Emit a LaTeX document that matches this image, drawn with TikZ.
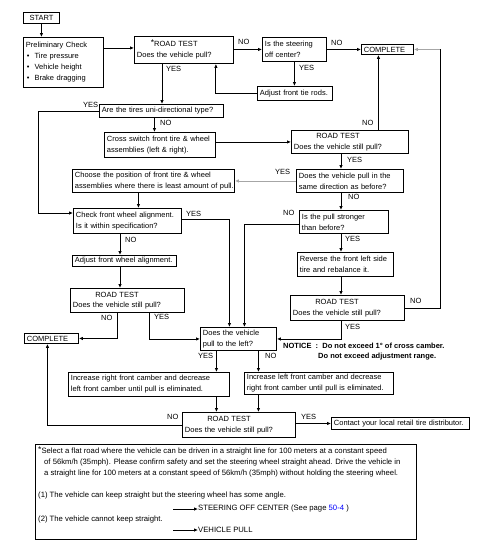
\documentclass[tikz,border=0pt]{standalone}
\usepackage{fontspec}
\setmainfont{Liberation Sans}
\usetikzlibrary{arrows.meta}

\newcommand{\rtest}[2]{\begin{tabular}{@{}c@{}}#1\\#2\end{tabular}}

\begin{document}
\begin{tikzpicture}
  [
    x=1pt, y=-1pt,
    every node/.style={font=\fontsize{7.5}{11}\selectfont},
    flowbox/.style={draw, line width=0.9pt, inner xsep=2.5pt, inner ysep=0pt,
      align=left, anchor=north west},
    lbl/.style={anchor=west, inner sep=0pt},
    fnote/.style={lbl, font=\fontsize{7.7}{11}\selectfont},
    conn/.style={line width=0.9pt, -{Latex[length=4pt,width=3.5pt]}},
    wire/.style={line width=0.9pt}
  ]
  \useasboundingbox (0,0) rectangle (478,552);
  \renewcommand{\arraystretch}{0.95}

  % boxes
  \node[flowbox, align=center, text width=31pt, minimum height=11pt] (start) at (23,12) {START};
  \node[flowbox, text width=75pt, minimum height=50pt] (prelim) at (23,37)
    {Preliminary Check\\
     \hspace*{1pt}\textbullet\hspace{5pt}Tire pressure\\
     \hspace*{1pt}\textbullet\hspace{5pt}Vehicle height\\
     \hspace*{1pt}\textbullet\hspace{5pt}Brake dragging};
  \node[flowbox, text width=94pt, minimum height=27pt] (rt1) at (134,36)
    {\rtest{{\fontsize{8.5}{11}\selectfont\raisebox{1pt}{*}}ROAD TEST}{Does the vehicle pull?}};
  \node[flowbox, text width=59pt, minimum height=24pt] (steer) at (262,37) {Is the steering\\off center?};
  \node[flowbox, text width=47pt, minimum height=10pt] (done1) at (361,44) {COMPLETE};
  \node[flowbox, text width=70pt, minimum height=14pt] (tierod) at (257,86) {Adjust front tie rods.};
  \node[flowbox, text width=119pt, minimum height=13pt] (tires) at (99,104) {Are the tires uni-directional type?};
  \node[flowbox, text width=106pt, minimum height=25pt] (cross) at (104,132)
    {Cross switch front tire \& wheel\\assemblies (left \& right).};
  \node[flowbox, text width=112pt, minimum height=23pt] (rt2) at (291,130)
    {\rtest{ROAD TEST}{Does the vehicle still pull?}};
  \node[flowbox, text width=157pt, minimum height=23pt] (choose) at (72,169)
    {\mbox{Choose the position of front tire \& wheel}\\\mbox{assemblies where there is least amount of pull.}};
  \node[flowbox, text width=102pt, minimum height=23pt] (samedir) at (296,169)
    {Does the vehicle pull in the\\same direction as before?};
  \node[flowbox, text width=103pt, minimum height=25pt] (check) at (73,208)
    {Check front wheel alignment.\\Is it within specification?};
  \node[flowbox, text width=84pt, minimum height=23pt] (stronger) at (299,210)
    {Is the pull stronger\\than before?};
  \node[flowbox, text width=99pt, minimum height=11pt] (adjust) at (72,255) {Adjust front wheel alignment.};
  \node[flowbox, text width=91pt, minimum height=24pt] (reverse) at (297,252)
    {Reverse the front left side\\tire and rebalance it.};
  \node[flowbox, text width=109pt, minimum height=24pt] (rt4) at (70,288)
    {\rtest{ROAD TEST}{Does the vehicle still pull?}};
  \node[flowbox, text width=109pt, minimum height=25pt] (rt3) at (290,295)
    {\rtest{ROAD TEST}{Does the vehicle still pull?}};
  \node[flowbox, text width=49pt, minimum height=10pt] (done2) at (24,333) {COMPLETE};
  \node[flowbox, text width=71pt, minimum height=23pt] (pullleft) at (200,327)
    {Does the vehicle\\pull to the left?};
  \node[flowbox, text width=156pt, minimum height=24pt] (rcamber) at (68,372)
    {Increase right front camber and decrease\\left front camber until pull is eliminated.};
  \node[flowbox, text width=144pt, minimum height=22pt] (lcamber) at (244,372)
    {Increase left front camber and decrease\\right front camber until pull is eliminated.};
  \node[flowbox, text width=108pt, minimum height=25pt] (rt5) at (182,412)
    {\rtest{ROAD TEST}{Does the vehicle still pull?}};
  \node[flowbox, text width=133pt, minimum height=12pt] (contact) at (331,417)
    {Contact your local retail tire distributor.};

  % notice
  \node[lbl, font=\fontsize{7.5}{11}\selectfont\bfseries] (notice) at (283,346)
    {NOTICE\ \ :\ \ Do not exceed 1\textdegree\ of cross camber.};
  \node[lbl, font=\fontsize{7.5}{11}\selectfont\bfseries] (notice2) at (318,357)
    {Do not exceed adjustment range.};

  % YES / NO labels
  \foreach \nm/\x/\y/\t in {
      lNoA/238/42/NO, lNoB/331/43/NO, lYesA/166/69/YES, lYesB/299/68/YES,
      lYesC/83/105/YES, lNoC/160/123/NO, lNoD/362/123/NO, lYesD/347/160/YES,
      lYesE/275/172/YES, lNoE/348/197/NO, lNoF/283/213/NO, lYesF/186/214/YES,
      lYesG/345/239/YES, lNoG/125/240/NO, lNoH/410/301/NO, lNoI/101/318/NO,
      lYesH/154/317/YES, lYesI/345/327/YES, lYesJ/198/356/YES, lNoJ/265/356/NO,
      lNoK/167/417/NO, lYesK/301/417/YES}
    \node[lbl] (\nm) at (\x,\y) {\t};

  % rails
  \coordinate (spine) at (341,0);
  \coordinate (leftspine) at (120,0);
  \coordinate (leftrail) at (38,0);
  \coordinate (rightrail) at (440,0);
  \coordinate (camR) at ([xshift=-22pt]pullleft.south);
  \coordinate (camL) at ([xshift=20pt]pullleft.south);

  % connectors
  \draw[conn] (start.south) -- (start.south |- prelim.north);
  \draw[conn] ([yshift=2pt]prelim.east |- rt1.west) -- ([yshift=2pt]rt1.west);
  \draw[conn] (rt1.east |- steer.west) -- (steer.west);
  \draw[conn] (steer.east |- done1.west) -- (done1.west);
  \draw[conn] (steer.south) -- (steer.south |- tierod.north);
  \draw[conn] (tierod.west) -| ([xshift=-18pt]rt1.south east);
  \draw[conn] ([xshift=28pt]rt1.south west) -- ([xshift=28pt]rt1.south west |- tires.north);
  \draw[conn] (tires.west) -- (tires.west -| leftrail) |- ([yshift=-5pt]check.north west);
  \draw[conn] ([xshift=-7pt]tires.south) -- ([xshift=-7pt]tires.south |- cross.north);
  \draw[conn] (cross.east |- rt2.west) -- (rt2.west);
  \draw[conn] ([xshift=-9pt]done1.south |- rt2.north) -- ([xshift=-9pt]done1.south);
  \draw[conn] (rt2.south -| spine) -- (samedir.north -| spine);
  \draw[conn, gray!70] (samedir.west) -- (samedir.west -| choose.east);
  \draw[conn] (samedir.south -| spine) -- (stronger.north -| spine);
  \draw[conn] ([yshift=-2pt]stronger.west) -| ([xshift=6pt]pullleft.north);
  \draw[conn] (stronger.south -| spine) -- (reverse.north -| spine);
  \draw[conn] (reverse.south -| spine) -- (rt3.north -| spine);
  \draw[wire] (rt3.east) -- (rt3.east -| rightrail) -- (rightrail |- done1.east);
  \draw[conn, gray!70] (rightrail |- done1.east) -- (done1.east);
  \draw[conn] (rt3.south -| spine) |- (pullleft.east);
  \draw[conn] ([xshift=-15pt]choose.south) -- ([xshift=-15pt]choose.south |- check.north);
  \draw[conn] ([yshift=2pt]check.east) -| ([xshift=-9pt]pullleft.north);
  \draw[conn] (check.south -| leftspine) -- (adjust.north -| leftspine);
  \draw[conn] (adjust.south -| leftspine) -- (rt4.north -| leftspine);
  \draw[conn] ([xshift=-10pt]rt4.south) |- (done2.east);
  \draw[conn] ([xshift=22pt]rt4.south) |- (pullleft.west);
  \draw[conn] (camR) -- (camR |- rcamber.north);
  \draw[conn] (camL) -- (camL |- lcamber.north);
  \draw[conn] (camR |- rcamber.south) -- (camR |- rt5.north);
  \draw[conn] (camL |- lcamber.south) -- (camL |- rt5.north);
  \draw[conn] (rt5.east |- contact.west) -- (contact.west);
  \draw[conn] (rt5.west) -| ([xshift=-4pt]done2.south);

  % footnote
  \node[flowbox, minimum width=381pt, minimum height=95pt] (note) at (35,444) {};
  \node[fnote] (fnA) at (38,451)
    {{\fontsize{8.5}{11}\selectfont\raisebox{1pt}{*}}Select a flat road where the vehicle can be driven in a straight line for 100 meters at a constant speed};
  \node[fnote] (fnB) at (44,463)
    {of 56km/h (35mph). Please confirm safety and set the steering wheel straight ahead. Drive the vehicle in};
  \node[fnote] (fnC) at (44,474)
    {a straight line for 100 meters at a constant speed of 56km/h (35mph) without holding the steering wheel.};
  \node[fnote] (fnD) at (38,496) {(1) The vehicle can keep straight but the steering wheel has some angle.};
  \node[fnote] (fnSoc) at (198,509) {STEERING OFF CENTER (See page \textcolor{blue}{50-4} )};
  \node[fnote] (fnE) at (38,520) {(2) The vehicle cannot keep straight.};
  \node[fnote] (fnVp) at (198,530) {VEHICLE PULL};
  \draw[conn] ([xshift=-25pt]fnSoc.west) -- (fnSoc.west);
  \draw[conn] ([xshift=-25pt]fnVp.west) -- (fnVp.west);
\end{tikzpicture}
\end{document}
